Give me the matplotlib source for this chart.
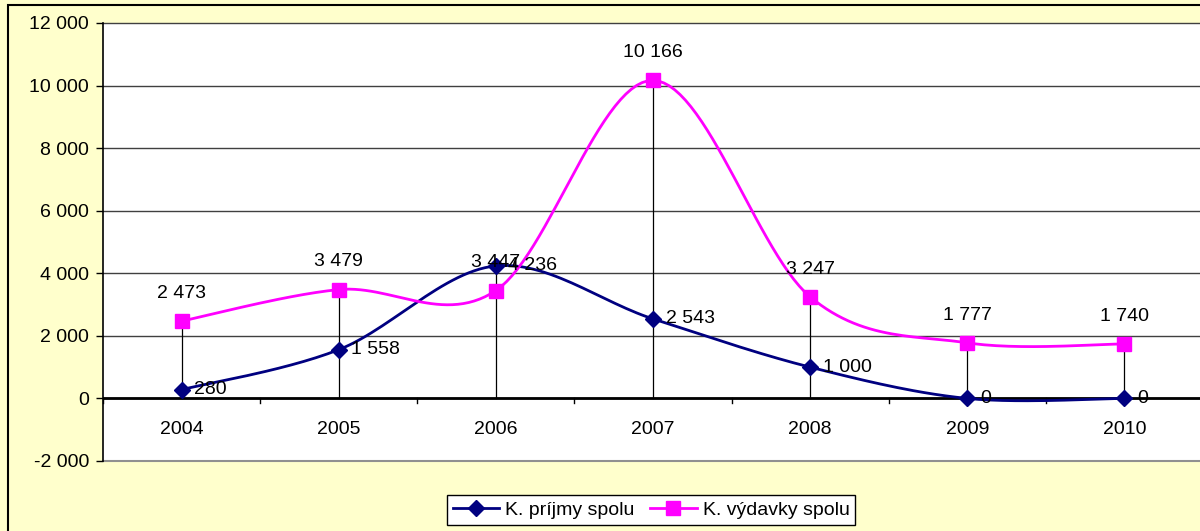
import numpy as np
import matplotlib.pyplot as plt
from matplotlib.patches import Rectangle

plt.rcParams['font.family'] = ['Liberation Sans', 'DejaVu Sans']

years = ['2004', '2005', '2006', '2007', '2008', '2009', '2010']
prijmy = [280, 1558, 4236, 2543, 1000, 0, 0]
vydavky = [2473, 3479, 3447, 10166, 3247, 1777, 1740]
y_ticks = [-2000, 0, 2000, 4000, 6000, 8000, 10000, 12000]

FS = 14


def fmt(v):
    return f"{v:,}".replace(",", " ")


def smooth(xs, ys, n=30):
    # Catmull-Rom, like Excel's smoothed line
    xs = np.asarray(xs, float)
    ys = np.asarray(ys, float)
    px = np.concatenate([[xs[0]], xs, [xs[-1]]])
    py = np.concatenate([[ys[0]], ys, [ys[-1]]])
    ox, oy = [], []
    for i in range(1, len(px) - 2):
        t = np.linspace(0, 1, n)
        for p, out in ((px, ox), (py, oy)):
            p0, p1, p2, p3 = p[i - 1], p[i], p[i + 1], p[i + 2]
            c1 = p1 + (p2 - p0) / 6
            c2 = p2 - (p3 - p1) / 6
            out.extend((1 - t) ** 3 * p1 + 3 * (1 - t) ** 2 * t * c1 + 3 * (1 - t) * t ** 2 * c2 + t ** 3 * p2)
    return np.array(ox), np.array(oy)


fig = plt.figure(figsize=(12, 5.31), dpi=100, facecolor='#FFFFCC')
fig.patches.append(Rectangle((8 / 1200, -0.1), 2, 1.1 - 5 / 531, transform=fig.transFigure,
                             fill=False, edgecolor='black', linewidth=1.5))
ax = fig.add_axes([103 / 1200, 1 - 461 / 531, 1100 / 1200, 438 / 531])
ax.set_facecolor('white')

x = np.arange(len(years))
ax.set_xlim(-0.5, len(years) - 0.5)
ax.set_ylim(-2000, 12000)

for yt in y_ticks:
    c = '#909090' if yt == -2000 else '#404040'
    ax.axhline(yt, color=c, linewidth=1.5 if yt == -2000 else 1, zorder=1, clip_on=False)
ax.axhline(0, color='black', linewidth=2, zorder=2)

# drop lines
for i in range(len(years)):
    top = max(prijmy[i], vydavky[i])
    ax.plot([x[i], x[i]], [0, top], color='black', linewidth=0.9, zorder=2)

sx, sy = smooth(x, prijmy)
ax.plot(sx, sy, color='#000080', linewidth=2, zorder=3)
ax.plot(x, prijmy, linestyle='none', marker='D', markersize=8, color='#000080', zorder=4)
sx, sy = smooth(x, vydavky)
ax.plot(sx, sy, color='#FF00FF', linewidth=2, zorder=3)
ax.plot(x, vydavky, linestyle='none', marker='s', markersize=10, color='#FF00FF', zorder=4)

ax.plot([], [], color='#000080', linewidth=2, marker='D', markersize=8, label='K. príjmy spolu')
ax.plot([], [], color='#FF00FF', linewidth=2, marker='s', markersize=10, label='K. výdavky spolu')

for i in range(len(years)):
    ax.annotate(fmt(prijmy[i]), (x[i], prijmy[i]), xytext=(9, 0), textcoords='offset points',
                ha='left', va='center', fontsize=FS, zorder=5)
    ax.annotate(fmt(vydavky[i]), (x[i], vydavky[i]), xytext=(0, 20), textcoords='offset points',
                ha='center', va='center', fontsize=FS, zorder=5)

ax.set_yticks(y_ticks)
ax.set_yticklabels([fmt(v) for v in y_ticks], fontsize=FS)
ax.tick_params(axis='y', length=5, width=1, pad=5)
ax.set_xticks([])
for b in np.arange(-0.5, len(years), 1.0):
    ax.plot([b, b], [0, -150], color='black', linewidth=1, clip_on=False, zorder=2)
for i, yr in enumerate(years):
    ax.text(x[i], -1000, yr, ha='center', va='center', fontsize=FS)

for s in ['top', 'right', 'bottom']:
    ax.spines[s].set_visible(False)
ax.spines['left'].set_color('black')
ax.spines['left'].set_linewidth(1.2)

leg = fig.legend(loc='center', bbox_to_anchor=(651 / 1200, 1 - 510 / 531), ncol=2, fontsize=FS,
                 frameon=True, fancybox=False, edgecolor='black', framealpha=1,
                 handlelength=2.4, columnspacing=0.8, handletextpad=0.3, borderpad=0.3)
leg.get_frame().set_linewidth(1)

fig.savefig('out.png', dpi=100, facecolor=fig.get_facecolor())
